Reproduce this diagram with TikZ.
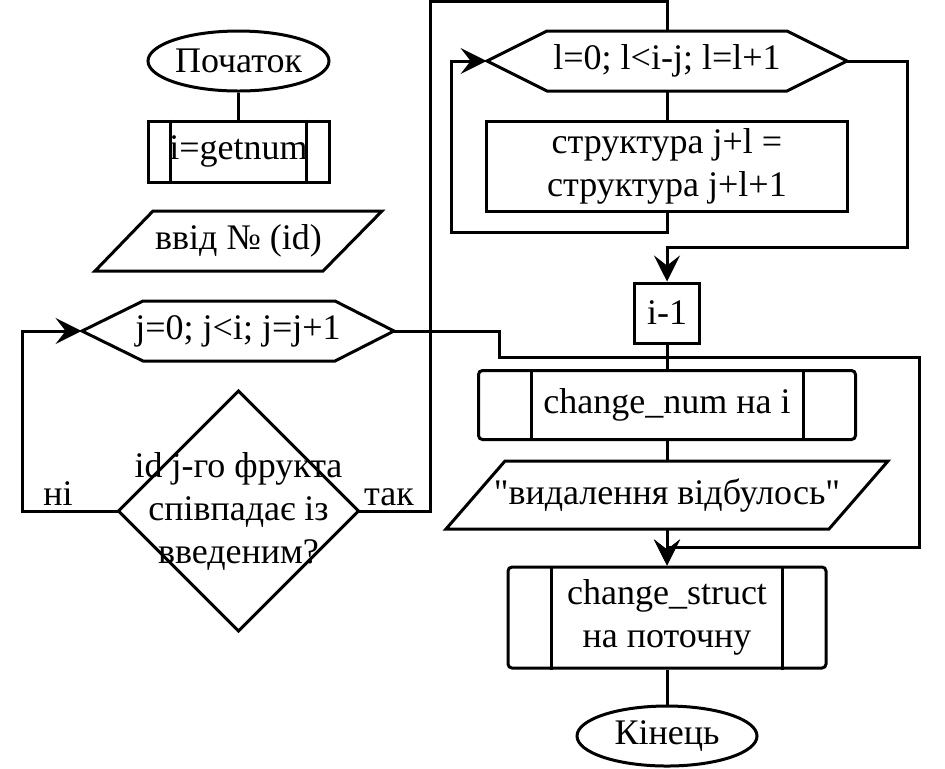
\documentclass[tikz,border=0pt]{standalone}
\usepackage{fontspec}
\setmainfont{Liberation Serif}
\newfontfamily\plainqf{Liberation Serif}
\usetikzlibrary{arrows.meta,shapes.geometric}
\begin{document}
\begin{tikzpicture}[x=0.5pt,y=-0.5pt,
  font=\fontsize{18}{21.5}\selectfont,
  line/.style={line width=1.5pt, line join=miter},
  arr/.style={line, -{Stealth[length=13pt,width=13pt,inset=5pt]}},
  box/.style={draw, line width=1.5pt, inner sep=0pt, align=center},
  ghost/.style={inner sep=0pt, align=center},
  term/.style={box, ellipse},
  ]
\useasboundingbox (0,0) rectangle (945,768);

% left column
\node[term, minimum width=90.5pt, minimum height=30pt] (start) at (238.5,61) {Початок};
\node[box, minimum width=90.5pt, minimum height=30.5pt] (get) at (238.5,151.5) {i=getnum};
\draw[line] ([xshift=12pt]get.north west) -- ([xshift=12pt]get.south west);
\draw[line] ([xshift=-12pt]get.north east) -- ([xshift=-12pt]get.south east);

\node[ghost, minimum width=100pt, minimum height=30pt] (inp) at (238.5,241) {ввід № (id)};
\draw[line] (153,211) -- (382,211) -- (323,271) -- (95,271) -- cycle;

\node[ghost, minimum width=156pt, minimum height=30pt] (hj) at (238,331) {j=0; j<i; j=j+1};
\draw[line] (82,331) -- (143,301) -- (335,301) -- (394,331) -- (335,361) -- (143,361) -- cycle;

\node[ghost, minimum width=120pt, minimum height=120pt] (dec) at (238.5,511) {id j-го фрукта\\співпадає із\\введеним?};
\draw[line] (238.5,391) -- (358.5,511) -- (238.5,631) -- (118.5,511) -- cycle;

\node[anchor=base] (ni) at (58,505) {ні};
\node[anchor=base] (tak) at (389,505) {так};

% right column
\node[ghost, minimum width=180pt, minimum height=30pt] (hl) at (667,61) {l=0; l<i-j; l=l+1};
\draw[line] (487,61) -- (547,31) -- (787,31) -- (847,61) -- (787,91) -- (547,91) -- cycle;

\node[box, minimum width=180.5pt, minimum height=45pt] (sb) at (667,166) {структура j+l =\\структура j+l+1};

\node[box, minimum width=32.5pt, minimum height=30pt] (im) at (667,313) {i-1};

\node[box, rounded corners=2pt, minimum width=188.5pt, minimum height=34.5pt] (cn) at (667,405) {change\_num на і};
\draw[line] ([xshift=27pt]cn.north west) -- ([xshift=27pt]cn.south west);
\draw[line] ([xshift=-27pt]cn.north east) -- ([xshift=-27pt]cn.south east);

\node[ghost, minimum width=150pt, minimum height=34pt] (out) at (667,495) {{\plainqf"}видалення відбулось{\plainqf"}};
\draw[line] (505,461) -- (888,461) -- (829,529) -- (446,529) -- cycle;

\node[box, rounded corners=2pt, minimum width=159pt, minimum height=50.5pt] (cs) at (667,617.5) {change\_struct\\на поточну};
\draw[line] ([xshift=22.5pt]cs.north west) -- ([xshift=22.5pt]cs.south west);
\draw[line] ([xshift=-22.5pt]cs.north east) -- ([xshift=-22.5pt]cs.south east);

\node[term, minimum width=90pt, minimum height=30pt] (fin) at (667,736) {Кінець};

% connectors
\draw[line] (start.south) -- (get.north);
\coordinate (lx) at (22,331);
\draw[arr] (dec.west) -| (lx) -- (hj.west);
\coordinate (tk) at (430,1.5);
\draw[line] (dec.east) -| (tk) -| (hl.north);
\coordinate (e1) at (499,357);
\coordinate (e2) at (919,547);
\draw[arr] (hj.east) -| (e1) -| (e2) -| (cs.north);

\draw[line] (hl.south) -- (sb.north);
\coordinate (lb) at (451,232);
\draw[arr] (sb.south) |- (lb) |- (hl.west);
\coordinate (r1) at (907,247);
\draw[arr] (hl.east) -| (r1) -| (im.north);
\draw[line] (im.south) -- (cn.north);
\draw[line] (cn.south) -- (out.north);
\draw[arr] (out.south) -- (cs.north);
\draw[line] (cs.south) -- (fin.north);
\end{tikzpicture}
\end{document}
